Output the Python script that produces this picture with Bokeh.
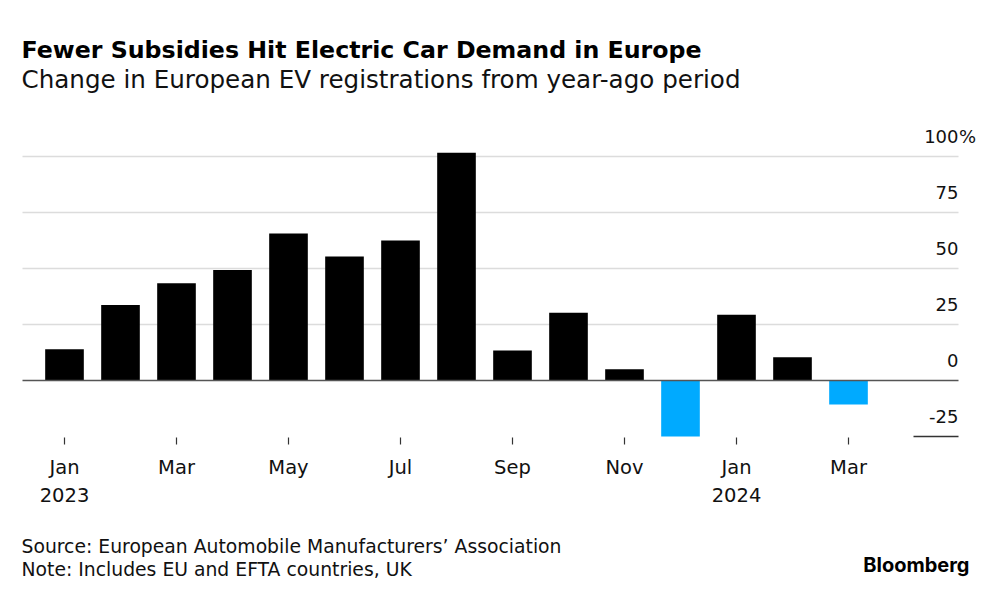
from bokeh.plotting import figure
from bokeh.models import Range1d, ColumnDataSource
from bokeh.core.properties import value
from bokeh.embed import file_html
from bokeh.resources import INLINE

# ---------------- data ----------------
months = ["Jan 2023", "Feb 2023", "Mar 2023", "Apr 2023", "May 2023", "Jun 2023",
          "Jul 2023", "Aug 2023", "Sep 2023", "Oct 2023", "Nov 2023", "Dec 2023",
          "Jan 2024", "Feb 2024", "Mar 2024"]
changes = [14.0, 33.7, 43.4, 49.3, 65.6, 55.4, 62.5, 101.7,
           13.4, 30.2, 5.0, -25.0, 29.4, 10.4, -10.7]
tick_positions = [0, 2, 4, 6, 8, 10, 12, 14]
tick_months = ["Jan", "Mar", "May", "Jul", "Sep", "Nov", "Jan", "Mar"]
tick_years = ["2023", "", "", "", "", "", "2024", ""]
y_ticks = [-25, 0, 25, 50, 75, 100]
y_tick_labels = ["-25", "0", "25", "50", "75", "100"]

title = "Fewer Subsidies Hit Electric Car Demand in Europe"
subtitle = "Change in European EV registrations from year-ago period"
source = "Source: European Automobile Manufacturers\u2019 Association"
note = "Note: Includes EU and EFTA countries, UK"
brand = "Bloomberg"

# ---------------- layout (reference pixel geometry) ----------------
W, H = 984, 584
OFF = 0
X0, DX = 64.0, 56.0      # pixel of first bar centre, pixel pitch per month
Y0, DY = 380.0, 2.24     # pixel of zero line, pixels per percentage point
TS = 7.0                 # text baseline correction (pixels upward)


def xd(px):
    return (px - X0) / DX


def yd(py):
    return (Y0 - py) / DY


FONT = "DejaVu Sans"
LOGO_FONT = "Inter"
BLACK = "#000000"
BLUE = "#00AAFF"
GRID = "#dcdcdc"
AXIS = "#555555"
TXT = "#111111"

p = figure(width=W, height=H, output_backend="svg", toolbar_location=None,
           x_range=Range1d(xd(OFF), xd(OFF + W)),
           y_range=Range1d(yd(OFF + H), yd(OFF)),
           x_axis_type=None, y_axis_type=None, min_border=0)
p.outline_line_color = None
p.grid.visible = False
p.background_fill_color = "white"
p.border_fill_color = "white"

# gridlines
grid_vals = [v for v in y_ticks if v > 0]
p.segment(x0=[xd(22)] * len(grid_vals), x1=[xd(958)] * len(grid_vals),
          y0=grid_vals, y1=grid_vals, line_color=GRID, line_width=1.3)

# bars
src = ColumnDataSource(dict(
    x=list(range(len(months))),
    top=changes,
    color=[BLACK if v >= 0 else BLUE for v in changes],
))
p.vbar(x="x", top="top", bottom=0, width=0.69, source=src,
       fill_color="color", line_color=None)

# zero line and bottom stub
p.segment(x0=[xd(22)], x1=[xd(958)], y0=[0], y1=[0], line_color=AXIS, line_width=1.3)
p.segment(x0=[xd(913)], x1=[xd(958)], y0=[y_ticks[0]], y1=[y_ticks[0]],
          line_color="#333333", line_width=1.3)

# y tick labels (above the gridlines, right side)
p.text(x=[xd(958)] * len(y_ticks), y=[v + (13.5 + TS) / DY for v in y_ticks],
       text=y_tick_labels, text_align="right", text_baseline="alphabetic",
       text_font=value(FONT), text_font_size=value("18px"), text_color=TXT)
p.text(x=[xd(958.5)], y=[y_ticks[-1] + (13.5 + TS) / DY], text=["%"],
       text_align="left", text_baseline="alphabetic",
       text_font=value(FONT), text_font_size=value("18px"), text_color=TXT)

# x ticks
p.segment(x0=tick_positions, x1=tick_positions,
          y0=[yd(437)] * len(tick_positions), y1=[yd(444)] * len(tick_positions),
          line_color="#333333", line_width=1.2)
p.text(x=tick_positions, y=[yd(474 - TS)] * len(tick_positions), text=tick_months,
       text_align="center", text_baseline="alphabetic",
       text_font=value(FONT), text_font_size=value("19.5px"), text_color=TXT)
p.text(x=tick_positions, y=[yd(501.5 - TS)] * len(tick_positions), text=tick_years,
       text_align="center", text_baseline="alphabetic",
       text_font=value(FONT), text_font_size=value("19.5px"), text_color=TXT)

# titles
p.text(x=[xd(21)], y=[yd(56.7 - TS)], text=[title], text_align="left",
       text_baseline="alphabetic", text_font=value(FONT), text_font_style="bold",
       text_font_size=value("23.7px"), text_color="#000000")
p.text(x=[xd(21)], y=[yd(86 - TS)], text=[subtitle], text_align="left",
       text_baseline="alphabetic", text_font=value(FONT),
       text_font_size=value("24.6px"), text_color=TXT)

# footer
p.text(x=[xd(21)], y=[yd(553.3 - TS)], text=[source], text_align="left",
       text_baseline="alphabetic", text_font=value(FONT),
       text_font_size=value("18.8px"), text_color=TXT)
p.text(x=[xd(21)], y=[yd(575.7 - TS)], text=[note], text_align="left",
       text_baseline="alphabetic", text_font=value(FONT),
       text_font_size=value("18.8px"), text_color=TXT)
p.text(x=[xd(969)], y=[yd(571.7 - TS)], text=[brand], text_align="right",
       text_baseline="alphabetic", text_font=value(LOGO_FONT), text_font_style="bold",
       text_font_size=value("20px"), text_color="#000000")

open("out.html", "w").write(file_html(p, INLINE))
